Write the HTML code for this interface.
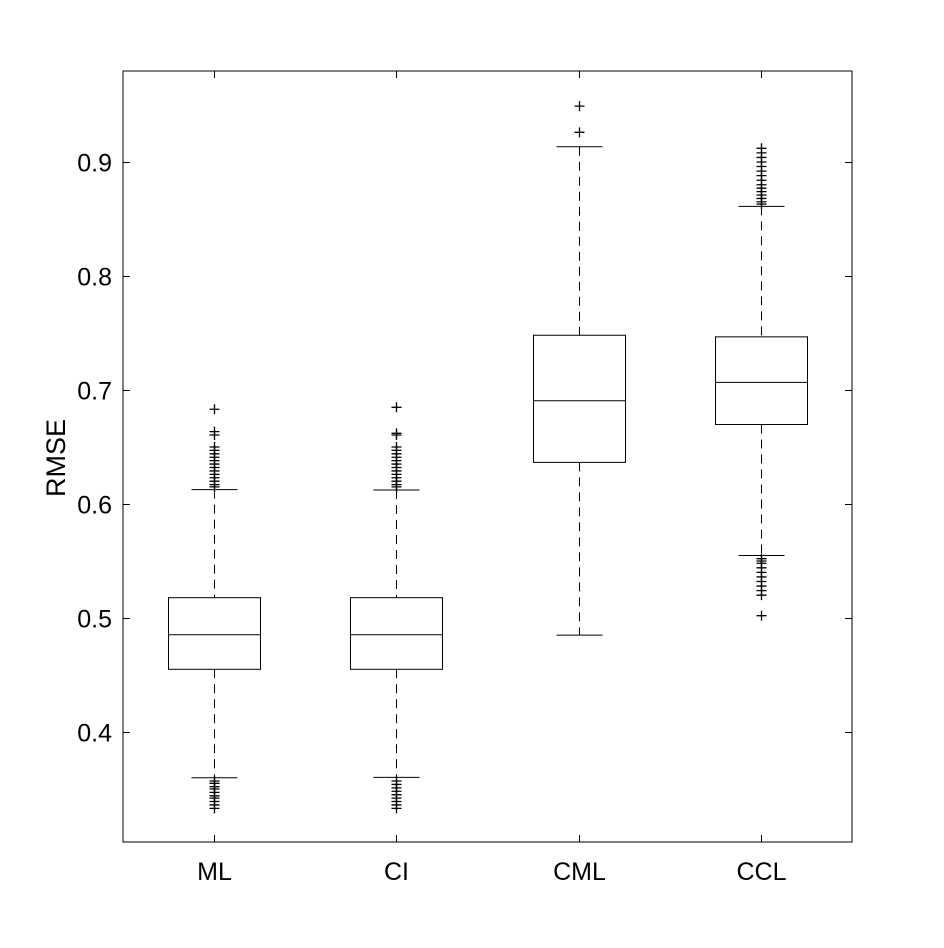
<!DOCTYPE html>
<html><head><meta charset="utf-8"><style>
html,body{margin:0;padding:0;background:#fff;}
svg{display:block;font-family:"Liberation Sans",Arial,sans-serif;}
</style></head><body>
<svg id="chart" width="944" height="948" viewBox="0 0 944 948" xmlns="http://www.w3.org/2000/svg">
<rect x="0" y="0" width="944" height="948" fill="#fff"/>
<g id="plot"></g>
</svg>
<script>
const categories = ["ML", "CI", "CML", "CCL"];
const q1 = [0.455, 0.455, 0.6365, 0.6697];
const medians = [0.4853, 0.4853, 0.6906, 0.7067];
const q3 = [0.5178, 0.5178, 0.748, 0.7466];
const whiskerLow = [0.3599, 0.3602, 0.485, 0.5548];
const whiskerHigh = [0.6126, 0.6123, 0.9133, 0.861];
const outliersHigh = [
  [0.6831, 0.6635, 0.6605, 0.650, 0.647, 0.644, 0.641, 0.638, 0.635, 0.632, 0.629, 0.626, 0.623, 0.620, 0.617, 0.615],
  [0.6848, 0.662, 0.6605, 0.650, 0.647, 0.644, 0.641, 0.638, 0.635, 0.632, 0.629, 0.626, 0.623, 0.620, 0.617, 0.615],
  [0.949, 0.926],
  [0.912, 0.908, 0.904, 0.900, 0.896, 0.892, 0.888, 0.884, 0.880, 0.877, 0.874, 0.871, 0.868, 0.865, 0.863]
];
const outliersLow = [
  [0.357, 0.355, 0.352, 0.350, 0.347, 0.344, 0.342, 0.339, 0.336, 0.333],
  [0.357, 0.354, 0.351, 0.348, 0.345, 0.342, 0.339, 0.336, 0.333],
  [],
  [0.552, 0.550, 0.548, 0.544, 0.540, 0.536, 0.532, 0.528, 0.524, 0.520, 0.502]
];
const yTicks = [0.4, 0.5, 0.6, 0.7, 0.8, 0.9];
const yTickLabels = ["0.4", "0.5", "0.6", "0.7", "0.8", "0.9"];

const L = 123, R = 852, T = 71, B = 842;
const yMin = 0.3035, yMax = 0.9798;
function y(v){ return B - (v - yMin) / (yMax - yMin) * (B - T); }
function x(i){ return L + (i + 0.5) * (R - L) / categories.length; }
const NS = "http://www.w3.org/2000/svg";
const g = document.getElementById("plot");
function mk(tag, attrs, parent){
  const e = document.createElementNS(NS, tag);
  for (const k in attrs) e.setAttribute(k, attrs[k]);
  (parent || g).appendChild(e);
  return e;
}
const frame = mk("rect", {x:L, y:T, width:R-L, height:B-T, fill:"none", stroke:"#000", "stroke-width":1});


yTicks.forEach((t, k) => {
  const yy = Math.round(y(t)) + 0.5;
  const tl = mk("line", {x1:L, x2:L+7, y1:yy, y2:yy, stroke:"#000"});
  
  
  const tr = mk("line", {x1:R-7, x2:R, y1:yy, y2:yy, stroke:"#000"});
  
  
  const tx = mk("text", {x:L-11, y:yy+9, "text-anchor":"end", "font-size":25, fill:"#000"});
  tx.textContent = yTickLabels[k];
  
  
});
const yt = mk("text", {x:0, y:0, transform:"translate(65,458) rotate(-90)", "text-anchor":"middle", "font-size":27, fill:"#000"});
yt.textContent = "RMSE";


const boxHalf = 46, capHalf = 23;
categories.forEach((c, i) => {
  const cx = Math.round(x(i)) + 0.5;
  const bt = mk("line", {x1:cx, x2:cx, y1:B, y2:B-7, stroke:"#000"});
  
  
  const tt = mk("line", {x1:cx, x2:cx, y1:T, y2:T+7, stroke:"#000"});
  
  
  const lb = mk("text", {x:cx, y:880, "text-anchor":"middle", "font-size":25, fill:"#000"});
  lb.textContent = c;
  
  
  const grp = mk("g", {});
  
  
  const w1 = mk("line", {x1:cx, x2:cx, y1:y(whiskerHigh[i]), y2:y(q3[i]), stroke:"#000", "stroke-dasharray":"9,6"}, grp);
  
  
  const w2 = mk("line", {x1:cx, x2:cx, y1:y(q1[i]), y2:y(whiskerLow[i]), stroke:"#000", "stroke-dasharray":"9,6"}, grp);
  
  
  const c1 = mk("line", {x1:cx-capHalf, x2:cx+capHalf, y1:y(whiskerHigh[i]), y2:y(whiskerHigh[i]), stroke:"#000"}, grp);
  
  
  const c2 = mk("line", {x1:cx-capHalf, x2:cx+capHalf, y1:y(whiskerLow[i]), y2:y(whiskerLow[i]), stroke:"#000"}, grp);
  
  
  const bx = mk("rect", {x:cx-boxHalf, y:y(q3[i]), width:boxHalf*2, height:y(q1[i])-y(q3[i]), fill:"#fff", stroke:"#000"}, grp);
  
  
  const md = mk("line", {x1:cx-boxHalf, x2:cx+boxHalf, y1:y(medians[i]), y2:y(medians[i]), stroke:"#000"}, grp);
  
  
  outliersHigh[i].concat(outliersLow[i]).forEach(v => {
    const yy = y(v);
    const p = mk("path", {d:`M${cx-5} ${yy}H${cx+5}M${cx} ${yy-5}V${yy+5}`, stroke:"#000", "stroke-width":1.3, fill:"none"}, grp);
    
    
  });
});
</script>
</body></html>
